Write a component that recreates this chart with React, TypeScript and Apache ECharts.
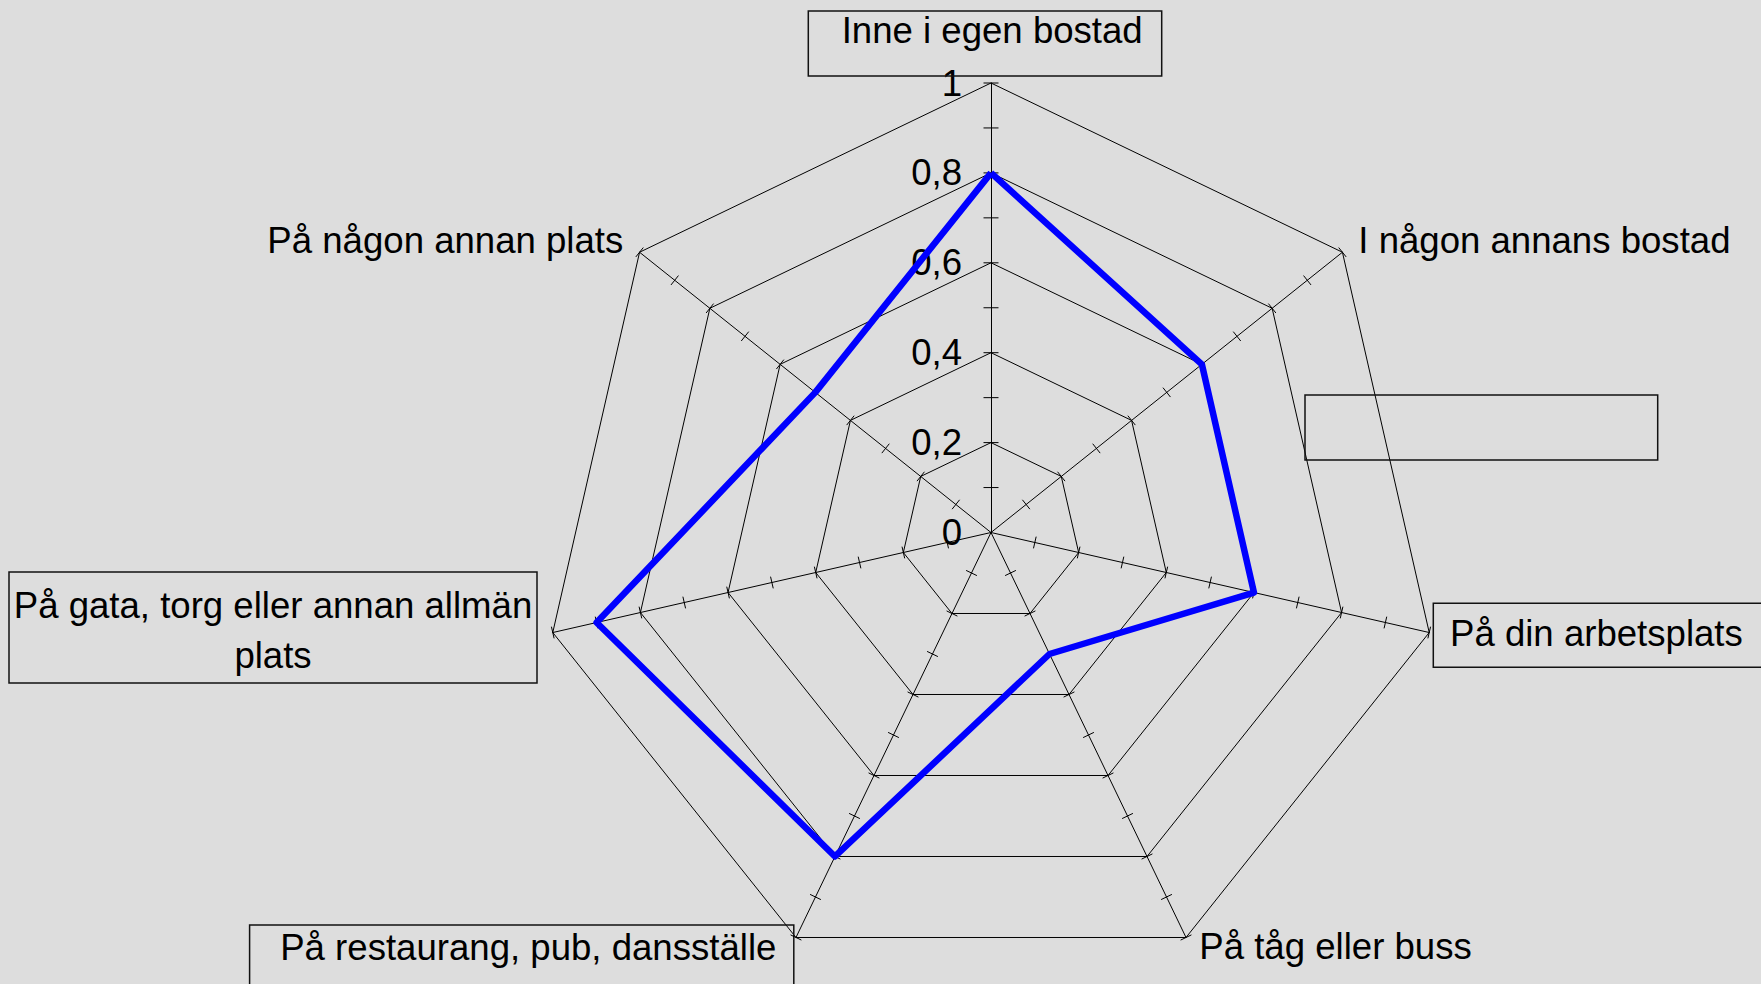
import React, { useEffect, useRef } from "react";
import * as echarts from "echarts";

// ---- data (reference order, clockwise from top) ----
const categories: string[] = [
  "Inne i egen bostad",
  "I någon annans bostad",
  "På din arbetsplats",
  "På tåg eller buss",
  "På restaurang, pub, dansställe",
  "På gata, torg eller annan allmän plats",
  "På någon annan plats",
];
const values: number[] = [0.8, 0.6, 0.6, 0.3, 0.8, 0.9, 0.5];
const tickLabels: string[] = ["0", "0,2", "0,4", "0,6", "0,8", "1"];
const minorTicks: number[] = [0.1, 0.2, 0.3, 0.4, 0.5, 0.6, 0.7, 0.8, 0.9, 1];

// ---- layout ----
const W = 1761;
const H = 984;
const CX = 991;
const CY = 532.5;
const R = 449.5;
const FONT = "'Liberation Sans', Arial, sans-serif";
const FS = 36.6;

type LabelLayout = {
  x: number;
  y: number;
  align: "left" | "right" | "center";
  box?: [number, number, number, number];
  wrap?: boolean;
};
const labelLayout: LabelLayout[] = [
  { x: 841.7, y: 30, align: "left", box: [808.3, 11, 353.4, 65] },
  { x: 1358.3, y: 240.5, align: "left" },
  { x: 1450, y: 633, align: "left", box: [1433.3, 603.3, 345, 64] },
  { x: 1199.3, y: 946.2, align: "left" },
  { x: 280.2, y: 947, align: "left", box: [249.6, 925, 544.2, 80] },
  { x: 273, y: 630.5, align: "center", box: [9, 572, 528, 111], wrap: true },
  { x: 623.3, y: 240.5, align: "right" },
];
const emptyBox: [number, number, number, number] = [1305, 395, 352.7, 65];

export default function App() {
  const ref = useRef<HTMLDivElement>(null);

  useEffect(() => {
    if (!ref.current) return;
    const chart = echarts.init(ref.current, null, { renderer: "svg" });

    const n = categories.length;
    // ECharts radar places indicators counter-clockwise; reorder for clockwise layout
    const order = [0, ...Array.from({ length: n - 1 }, (_, i) => n - 1 - i)];
    const indicator = order.map((i) => ({ name: categories[i], min: 0, max: 1 }));
    const seriesValues = order.map((i) => values[i]);

    // tick positions along every spoke: [value, angle(deg, clockwise from top), axisIndex]
    const tickData: number[][] = [];
    for (let k = 0; k < n; k++) {
      for (const v of minorTicks) tickData.push([v, (k * 360) / n, k]);
    }

    const graphics: any[] = [];
    labelLayout.forEach((l, i) => {
      if (l.box) {
        graphics.push({
          type: "rect",
          shape: { x: l.box[0], y: l.box[1], width: l.box[2], height: l.box[3] },
          style: { fill: "none", stroke: "#111", lineWidth: 1.5 },
          z: 1,
        });
      }
      let text = categories[i];
      if (l.wrap) {
        const k = text.lastIndexOf(" ");
        text = text.slice(0, k) + "\n" + text.slice(k + 1);
      }
      graphics.push({
        type: "text",
        x: l.x,
        y: l.y,
        style: {
          text,
          fill: "#000",
          fontSize: FS,
          fontFamily: FONT,
          align: l.align,
          verticalAlign: "middle",
          lineHeight: 50,
        },
        z: 2,
      });
    });
    graphics.push({
      type: "rect",
      shape: { x: emptyBox[0], y: emptyBox[1], width: emptyBox[2], height: emptyBox[3] },
      style: { fill: "none", stroke: "#111", lineWidth: 1.5 },
      z: 1,
    });

    chart.setOption({
      animation: false,
      backgroundColor: "#dddddd",
      radar: [
        {
          center: [CX, CY],
          radius: R,
          startAngle: 90,
          shape: "polygon",
          indicator,
          splitNumber: 5,
          axisName: { show: false },
          splitArea: { show: false },
          axisLabel: { show: false },
          splitLine: { show: true, lineStyle: { color: "#000", width: 1 } },
          axisLine: { show: true, lineStyle: { color: "#000", width: 1 } },
          axisTick: { show: false },
        },
      ],
      polar: { center: [CX, CY], radius: R },
      angleAxis: { type: "value", min: 0, max: 360, startAngle: 90, clockwise: true, show: false },
      radiusAxis: { type: "value", min: 0, max: 1, show: false },
      grid: { left: CX, top: CY - R, width: 1, height: R },
      xAxis: { type: "value", show: false, min: 0, max: 1 },
      yAxis: {
        type: "value",
        min: 0,
        max: 1,
        interval: 0.2,
        axisLine: { show: false },
        axisTick: { show: false },
        splitLine: { show: false },
        axisLabel: {
          margin: 29,
          color: "#000",
          fontSize: FS,
          fontFamily: FONT,
          formatter: (v: number) => tickLabels[Math.round(v / 0.2)],
        },
      },
      series: [
        {
          type: "custom",
          coordinateSystem: "polar",
          silent: true,
          z: 3,
          data: tickData,
          renderItem: (params: any, api: any) => {
            const v = api.value(0);
            const a = api.value(1);
            const k = api.value(2);
            const p = api.coord([v, a]);
            const c = api.coord([0, a]);
            let dx = p[0] - c[0];
            let dy = p[1] - c[1];
            const len = Math.hypot(dx, dy) || 1;
            dx /= len;
            dy /= len;
            const half = k === 0 ? 7.5 : 6;
            const nx = -dy * half;
            const ny = dx * half;
            return {
              type: "line",
              shape: { x1: p[0] - nx, y1: p[1] - ny, x2: p[0] + nx, y2: p[1] + ny },
              style: { stroke: "#000", lineWidth: 1 },
            };
          },
        },
        {
          type: "radar",
          radarIndex: 0,
          symbol: "none",
          z: 5,
          lineStyle: { color: "#0000ff", width: 6.5 },
          data: [{ value: seriesValues, name: "Andel" }],
        },
      ],
      graphic: graphics,
    });

    return () => chart.dispose();
  }, []);

  return (
    <div
      ref={ref}
      style={{ position: "fixed", left: 0, top: 0, width: W, height: H }}
    />
  );
}
